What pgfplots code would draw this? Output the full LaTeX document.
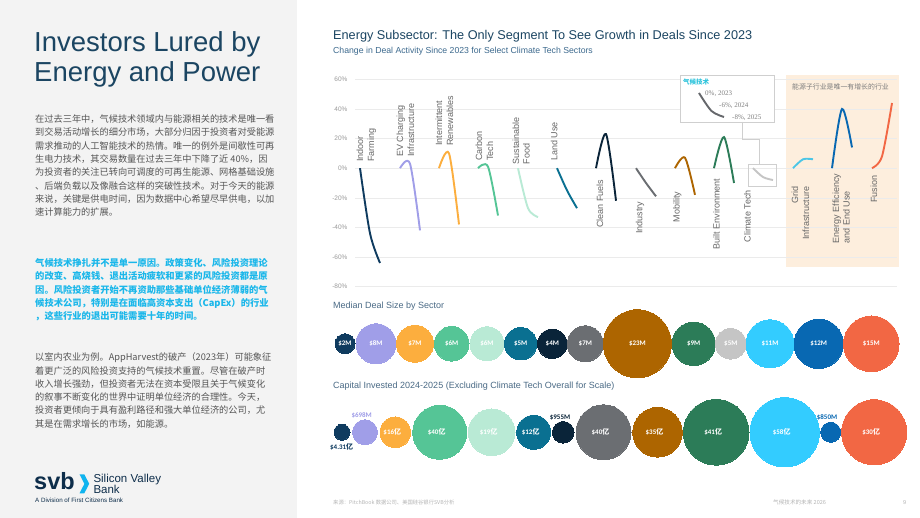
\documentclass[border=0pt]{standalone}
\usepackage{pgfplots}
\pgfplotsset{compat=1.18}
\usepackage{fontspec}
\setmainfont{Liberation Sans}
\newfontfamily\cjk{Noto Sans CJK SC}
\newfontfamily\carlito{Carlito}
\newfontfamily\lserif{Liberation Serif}
\newcommand\fs[1]{\fontsize{#1pt}{#1pt}\selectfont}
\newcommand\yi{{\cjk 亿}}

\definecolor{cA}{HTML}{0F3B5F}
\definecolor{cB}{HTML}{A09EE8}
\definecolor{cC}{HTML}{FCAE3E}
\definecolor{cD}{HTML}{55C596}
\definecolor{cE}{HTML}{B9EAD5}
\definecolor{cF}{HTML}{0A7091}
\definecolor{cG}{HTML}{0A2439}
\definecolor{cH}{HTML}{6B6E72}
\definecolor{cI}{HTML}{AD6500}
\definecolor{cJ}{HTML}{2C7C58}
\definecolor{cK}{HTML}{C5C5C5}
\definecolor{cL}{HTML}{33CCFF}
\definecolor{cLl}{HTML}{4CC6E6}
\definecolor{cM}{HTML}{0868B2}
\definecolor{cN}{HTML}{F26744}
\definecolor{panel}{HTML}{F3F3F3}
\definecolor{titleblue}{HTML}{1B4562}
\definecolor{bodygray}{HTML}{555555}
\definecolor{hiblue}{HTML}{1AB7EA}
\definecolor{peach}{HTML}{FDEEDD}
\definecolor{gridc}{HTML}{EBEBEB}
\definecolor{labgray}{HTML}{666666}
\definecolor{tickgray}{HTML}{9A9A9A}
\definecolor{svbnavy}{HTML}{0D2D4A}
\definecolor{svbcyan}{HTML}{10B4EF}
\definecolor{subblue}{HTML}{3D6A8E}
\definecolor{sectgray}{HTML}{4A6A85}
\definecolor{boxgray}{HTML}{CFCFCF}
\definecolor{calloutcyan}{HTML}{2EC4DC}
\definecolor{footgray}{HTML}{B5B5B5}

% one bubble: x centre, radius, colour, label, label shift
\newcommand\bub[5]{\addplot[color=#3, only marks, mark=*, mark size=#2, mark options={draw=none, fill=#3, line width=0pt},
  nodes near coords={#4},
  every node near coord/.append style={anchor=center, text=white, inner sep=0pt, xshift=#5, font=\carlito\bfseries\fs{7}}]
  coordinates {(#1,0)};}
% bubble whose label sits outside
\newcommand\bubn[3]{\addplot[color=#3, only marks, mark=*, mark size=#2, mark options={draw=none, fill=#3, line width=0pt}] coordinates {(#1,0)};}

\pgfplotsset{
  bubblestyle/.style={
    at={(300pt,#1)}, anchor=south west, scale only axis,
    width=620pt, height=80pt, xmin=300, xmax=920, ymin=-40, ymax=40,
    hide axis, clip=false,
  },
}

\begin{document}
\begin{tikzpicture}
\useasboundingbox (0,0) rectangle (920pt,518pt);
\fill[white] (0,0) rectangle (920pt,518pt);
\fill[panel] (0,0) rectangle (297pt,518pt);

\begin{scope}[x=1pt, y=-1pt, shift={(0pt,518pt)}]
\fill[peach] (786,75) rectangle (899,267);
\end{scope}

% ---------- line chart ----------
\begin{axis}[
  at={(355pt,231.3pt)}, anchor=south west,
  scale only axis, width=542pt, height=207.4pt,
  xmin=355, xmax=897, ymin=-80, ymax=60,
  clip=false,
  axis line style={draw=none},
  xtick=\empty,
  ytick={-80,-60,-40,-20,0,20,40,60},
  yticklabels={-80\%,-60\%,-40\%,-20\%,0\%,20\%,40\%,60\%},
  ymajorgrids, grid style={draw=gridc, line width=0.6pt},
  major tick length=0pt,
  yticklabel style={font=\fs{6.5}, text=tickgray, inner sep=0pt, anchor=east, xshift=-7.3pt},
  every axis plot/.append style={smooth, line width=1.9pt, no markers},
]
\addplot[cA] coordinates {(360,0) (370,-44) (380,-64)};
\addplot[cB] coordinates {(400,0) (410,3) (420,-42)};
\addplot[cC] coordinates {(439,0) (449,10) (459,-38)};
\addplot[cD] coordinates {(478,0) (488,1) (498,-32)};
\addplot[cE] coordinates {(518,0) (528,-27) (538,-33)};
\addplot[cF] coordinates {(557,0) (567,-15) (577,-27)};
\addplot[cG] coordinates {(596,0) (606,23) (616,-22)};
\addplot[cH] coordinates {(636,0) (646,-10) (656,-19)};
\addplot[cI] coordinates {(675,0) (685,7) (695,-18)};
\addplot[cJ] coordinates {(714,0) (724,21) (734,-10)};
\addplot[cK] coordinates {(753,0) (763,-6) (773,-8)};
\addplot[cLl] coordinates {(793,0) (803,6) (813,6)};
\addplot[cM] coordinates {(832,0) (842,40) (852,14)};
\addplot[cN] coordinates {(872,0) (882,8) (892,44)};
\end{axis}

\begin{scope}[x=1pt, y=-1pt, shift={(0pt,518pt)}]
% callout
\draw[boxgray, fill=white, line width=0.7pt] (680,75) rectangle (774,122);
\draw[boxgray, line width=0.7pt] (742,122) -- (742,139) -- (759,139) -- (759,164);
\draw[boxgray, line width=0.7pt] (748,164) rectangle (776,186);
\node[anchor=west, inner sep=0, font=\cjk\bfseries\fs{6.5}, text=calloutcyan] at (683,82.5) {气候技术};
\node[anchor=west, inner sep=0, font=\lserif\fs{7}, text=gray] at (705,94) {0\%, 2023};
\node[anchor=west, inner sep=0, font=\lserif\fs{7}, text=gray] at (719,106) {-6\%, 2024};
\node[anchor=west, inner sep=0, font=\lserif\fs{7}, text=gray] at (732,117.3) {-8\%, 2025};
\node[anchor=west, inner sep=0, font=\cjk\fs{6.9}, text=labgray!85] at (792,87) {能源子行业是唯一有增长的行业};

% sector labels (rotated)
\tikzset{sl/.style={rotate=90, inner sep=0, font=\fs{9}, text=labgray}}
\node[sl, anchor=base west] at (363,162) {Indoor};
\node[sl, anchor=base west] at (374,162) {Farming};
\node[sl, anchor=base west] at (403,157) {EV Charging};
\node[sl, anchor=base west] at (414,157) {Infrastructure};
\node[sl, anchor=base west] at (442,146) {Intermittent};
\node[sl, anchor=base west] at (453,146) {Renewables};
\node[sl, anchor=base west] at (482,161) {Carbon};
\node[sl, anchor=base west] at (493,161) {Tech};
\node[sl, anchor=base west] at (519,164.5) {Sustainable};
\node[sl, anchor=base west] at (529.5,164.5) {Food};
\node[sl, anchor=base west] at (557.3,161) {Land Use};
\node[sl, anchor=base east] at (603,179.3) {Clean Fuels};
\node[sl, anchor=base east] at (642.3,201.7) {Industry};
\node[sl, anchor=base east] at (679.7,191.7) {Mobility};
\node[sl, anchor=base east] at (719.7,178.3) {Built Environment};
\node[sl, anchor=base east] at (750.7,190) {Climate Tech};
\node[sl, anchor=base east] at (798,186.7) {Grid};
\node[sl, anchor=base east] at (809,186.7) {Infrastructure};
\node[sl, anchor=base west] at (839,243.3) {Energy Efficiency};
\node[sl, anchor=base west] at (849.7,243.3) {and End Use};
\node[sl, anchor=base east] at (877,175.7) {Fusion};
\end{scope}

% mini Climate Tech line in the callout
\begin{axis}[at={(699pt,401pt)}, anchor=south west, scale only axis,
  width=25pt, height=24pt, xmin=2023, xmax=2025, ymin=-8, ymax=0,
  hide axis, clip=false]
\addplot[smooth, line width=1.9pt, color=cH!95!black, no markers] coordinates {(2023,0) (2024,-6) (2025,-8)};
\end{axis}

% ---------- bubbles: median deal size ($M) ----------
\begin{axis}[bubblestyle=134.2pt]
\bub{345}{10}{cA}{\$2M}{0pt}
\bub{376}{20}{cB}{\$8M}{0pt}
\bub{415}{18.5}{cC}{\$7M}{0pt}
\bub{451.7}{17.3}{cD}{\$6M}{0pt}
\bub{487}{17}{cE}{\$6M}{0pt}
\bub{520.7}{16.2}{cF}{\$5M}{0pt}
\bub{552.3}{14.7}{cG}{\$4M}{0pt}
\bub{585.3}{18}{cH}{\$7M}{0pt}
\bub{637.4}{34}{cI}{\$23M}{0pt}
\bub{693.7}{21.7}{cJ}{\$9M}{0pt}
\bub{730.8}{15.3}{cK}{\$5M}{0pt}
\bub{770}{24}{cL}{\$11M}{0pt}
\bub{818.7}{24.7}{cM}{\$12M}{0pt}
\bub{871.3}{27.8}{cN}{\$15M}{0pt}
\end{axis}

% ---------- bubbles: capital invested 2024-2025 ----------
\begin{axis}[bubblestyle=45.7pt]
\bubn{342}{8}{cA}
\bubn{365}{12.5}{cB}
\bub{395.3}{15.3}{cC}{\$16\yi}{-3pt}
\bub{439.7}{27}{cD}{\$40\yi}{-3pt}
\bub{491.7}{23.3}{cE}{\$19\yi}{-3pt}
\bub{533.7}{17}{cF}{\$12\yi}{-3pt}
\bubn{563.2}{10.8}{cG}
\bub{603.5}{27.5}{cH}{\$40\yi}{-3pt}
\bub{657.5}{24.8}{cI}{\$35\yi}{-3pt}
\bub{716.2}{32.8}{cJ}{\$41\yi}{-3pt}
\bub{784.7}{34.7}{cL}{\$58\yi}{-3pt}
\bubn{830.7}{10}{cM}
\bub{874.2}{32.5}{cN}{\$30\yi}{-3pt}
\end{axis}

\begin{scope}[x=1pt, y=-1pt, shift={(0pt,518pt)}]
\tikzset{bl/.style={inner sep=0, font=\carlito\bfseries\fs{7}}}
\node[bl, text=cA] at (341.7,446.7) {\$4.31\yi};
\node[bl, text=cB] at (361.7,415.7) {\$698M};
\node[bl, text=cG] at (560,417.3) {\$955M};
\node[bl, text=cM] at (827,417.3) {\$850M};

% right titles
\node[anchor=base west, inner sep=0, text=titleblue, font=\fs{12.7}] at (333,40) {Energy Subsector: The Only Segment To See Growth in Deals Since 2023};
\node[anchor=base west, inner sep=0, text=subblue, font=\fs{8.7}] at (333,53.3) {Change in Deal Activity Since 2023 for Select Climate Tech Sectors};
\node[anchor=base west, inner sep=0, text=sectgray, font=\fs{9}] at (333,309) {Median Deal Size by Sector};
\node[anchor=base west, inner sep=0, text=sectgray, font=\fs{9}] at (333,389) {Capital Invested 2024-2025 (Excluding Climate Tech Overall for Scale)};

% footer
\node[anchor=base west, inner sep=0, text=footgray, font=\cjk\fs{5.3}] at (333,505) {来源：PitchBook 数据公司、美国硅谷银行SVB分析};
\node[anchor=base west, inner sep=0, text=footgray, font=\cjk\fs{5.6}] at (773,505) {气候技术的未来 2026};
\node[anchor=base west, inner sep=0, text=footgray, font=\fs{5.6}] at (903,505) {9};

% left panel
\node[anchor=base west, inner sep=0, text=titleblue, font=\fs{27.5}] at (34,51.7) {Investors Lured by};
\node[anchor=base west, inner sep=0, text=titleblue, font=\fs{27.5}] at (34,81.7) {Energy and Power};

\foreach \t [count=\i from 0] in {
  {在过去三年中，气候技术领域内与能源相关的技术是唯一看},
  {到交易活动增长的细分市场，大部分归因于投资者对受能源},
  {需求推动的人工智能技术的热情。唯一的例外是间歇性可再},
  {生电力技术，其交易数量在过去三年中下降了近 40\%，因},
  {为投资者的关注已转向可调度的可再生能源、网格基础设施},
  {、后端负载以及像融合这样的突破性技术。对于今天的能源},
  {来说，关键是供电时间，因为数据中心希望尽早供电，以加},
  {速计算能力的扩展。}}
  \node[anchor=base west, inner sep=0, text=bodygray, font=\cjk\fs{9.2}] at (35,122.5+13.33*\i) {\t};

\foreach \t [count=\i from 0] in {
  {气候技术挣扎并不是单一原因。政策变化、风险投资理论},
  {的改变、高烧钱、退出活动疲软和更紧的风险投资都是原},
  {因。风险投资者开始不再资助那些基础单位经济薄弱的气},
  {候技术公司，特别是在面临高资本支出（CapEx）的行业},
  {，这些行业的退出可能需要十年的时间。}}
  \node[anchor=base west, inner sep=0, text=hiblue, font=\cjk\bfseries\fs{9.3}] at (35,266.5+13.3*\i) {\t};

\foreach \t [count=\i from 0] in {
  {以室内农业为例。AppHarvest的破产（2023年）可能象征},
  {着更广泛的风险投资支持的气候技术重置。尽管在破产时},
  {收入增长强劲，但投资者无法在资本受限且关于气候变化},
  {的叙事不断变化的世界中证明单位经济的合理性。今天，},
  {投资者更倾向于具有盈利路径和强大单位经济的公司，尤},
  {其是在需求增长的市场，如能源。}}
  \node[anchor=base west, inner sep=0, text=bodygray, font=\cjk\fs{9.2}] at (35,360.8+13.3*\i) {\t};

% logo
\node[anchor=base west, inner sep=0, text=svbnavy, font=\bfseries\fs{23.5}] at (34,489.3) {svb};
\fill[svbcyan] (79.5,474.3) -- (84.3,474.3) -- (89.2,483.8) -- (84.3,493.3) -- (79.5,493.3) -- (84.4,483.8) -- cycle;
\node[anchor=base west, inner sep=0, text=svbnavy, font=\fs{11.5}] at (93.3,483) {Silicon Valley};
\node[anchor=base west, inner sep=0, text=svbnavy, font=\fs{11.5}] at (93.3,493.5) {Bank};
\node[anchor=base west, inner sep=0, text=svbnavy, font=\fs{6.2}] at (35,503) {A Division of First Citizens Bank};
\end{scope}
\end{tikzpicture}
\end{document}
